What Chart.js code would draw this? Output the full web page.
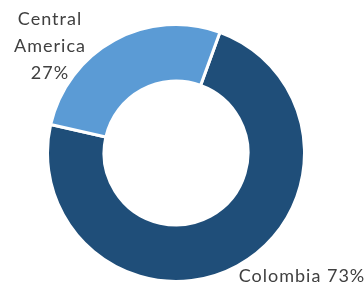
<!DOCTYPE html>
<html>
<head>
<meta charset="utf-8">
<script src="https://cdn.jsdelivr.net/npm/chart.js@4/dist/chart.umd.min.js"></script>
<style>
	html, body { margin: 0; padding: 0; background: #fff; }
	#wrap { width: 364px; height: 283px; }
</style>
</head>
<body>
<div id="wrap"><canvas id="myChart" width="364" height="283"></canvas></div>
<script>
	'use strict';

	const regions = ['Colombia', 'Central America'];
	const shares = [73, 27];
	const colors = ['#1f4e79', '#5b9bd5'];

	// where each label sits, and how its text is split into lines
	const labelSpots = [
		{x: 302, y: 276, lines: ['Colombia ' + shares[0] + '%']},
		{x: 50, y: 19, lines: ['Central', 'America', shares[1] + '%']}
	];

	const outsideLabels = {
		id: 'outsideLabels',
		afterDraw(chart) {
			let ctx = chart.ctx;
			ctx.save();
			ctx.font = '18px Lato';
			ctx.letterSpacing = '1px';
			ctx.fillStyle = '#404040';
			ctx.textAlign = 'center';
			ctx.textBaseline = 'middle';
			labelSpots.forEach(function (s) {
				s.lines.forEach(function (t, i) {
					ctx.fillText(t, s.x, s.y + i * 27);
				});
			});
			ctx.restore();
		}
	};

	let ctx = document.getElementById('myChart').getContext('2d');
	let myChart = new Chart(ctx, {
		type: 'doughnut',
		data: {
			labels: regions,
			datasets: [
				{
					data           : shares,
					backgroundColor: colors,
					borderColor    : '#ffffff',
					borderWidth    : 3
				}
			]
		},
		options: {
			responsive: false,
			animation : false,
			cutout    : '56%',
			rotation  : 20,
			layout    : {padding: {left: 45, right: 57, top: 23, bottom: -3}},
			plugins   : {
				legend : {display: false},
				tooltip: {enabled: false}
			}
		},
		plugins: [outsideLabels]
	});
</script>
</body>
</html>
